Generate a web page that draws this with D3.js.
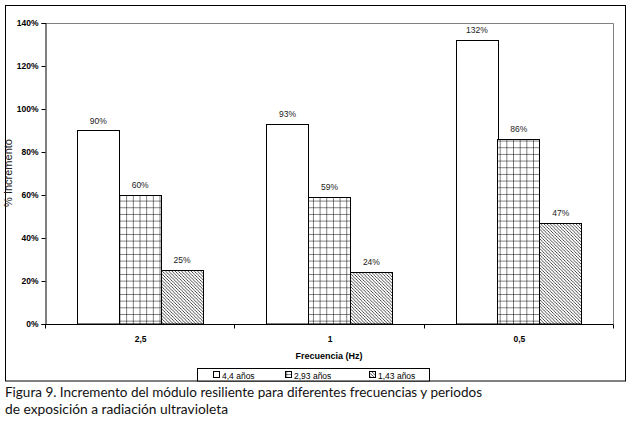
<!DOCTYPE html>
<html><head><meta charset="utf-8">
<script src="https://cdn.jsdelivr.net/npm/d3@7"></script>
<style>body{margin:0;background:#fff}svg{display:block}</style>
</head><body>
<svg id="c" width="629" height="421"></svg>
<script>
const categories = ["2,5", "1", "0,5"];
const seriesNames = ["4,4 años", "2,93 años", "1,43 años"];
const s44 = [90, 93, 132];
const s293 = [60, 59, 86];
const s143 = [25, 24, 47];
const yTicks = [0, 20, 40, 60, 80, 100, 120, 140];

const series = [s44, s293, s143];
const svg = d3.select("#c");
const m = {l: 45, r: 613, t: 23, b: 324};
const F = "'Liberation Sans', Arial, sans-serif";

const defs = svg.append("defs");
const pg = defs.append("pattern").attr("id","grid").attr("patternUnits","userSpaceOnUse")
  .attr("width",6.67).attr("height",6.67).attr("x",119.5).attr("y",0.5);
pg.append("rect").attr("width",6.67).attr("height",6.67).attr("fill","#fff");
pg.append("path").attr("d","M0,0H6.67M0,0V6.67").attr("stroke","#000").attr("stroke-width",1).attr("fill","none");
const ph = defs.append("pattern").attr("id","hatch").attr("patternUnits","userSpaceOnUse")
  .attr("width",3.2).attr("height",3.2);
ph.append("rect").attr("width",3.2).attr("height",3.2).attr("fill","#fff");
ph.append("path").attr("d","M-1,-1L4.2,4.2M-1,2.2L1,4.2M2.2,-1L4.2,1").attr("stroke","#000").attr("stroke-width",0.7);
const fills = ["#fff", "url(#grid)", "url(#hatch)"];

// outer frame
svg.append("rect").attr("x",5.5).attr("y",5.5).attr("width",620).attr("height",375.5)
  .attr("fill","none").attr("stroke","#000").attr("stroke-width",1);

const x0 = d3.scaleBand().domain(categories).range([m.l, m.r]).paddingInner(0).paddingOuter(0);
const x1 = d3.scaleBand().domain(d3.range(3)).range([0, x0.bandwidth()]).paddingInner(0).paddingOuter(0.76);
const y = d3.scaleLinear().domain([0, 140]).range([m.b, m.t]);

// plot area border (gray top/right)
svg.append("path").attr("d",`M${m.l},${m.t+0.5}H${m.r+0.5}V${m.b}`).attr("fill","none").attr("stroke","#808080").attr("stroke-width",1);

// bars
categories.forEach((c, ci) => {
  series.forEach((s, si) => {
    const bx = x0(c) + x1(si);
    svg.append("rect").attr("x", Math.round(bx)+0.5).attr("y", Math.round(y(s[ci]))+0.5)
      .attr("width", Math.round(x1.bandwidth())).attr("height", y(0) - Math.round(y(s[ci])) - 0.5)
      .attr("fill", fills[si]).attr("stroke","#000").attr("stroke-width",1);
    svg.append("text").attr("x", bx + x1.bandwidth()/2 + 0.5).attr("y", y(s[ci]) - 7)
      .attr("text-anchor","middle").attr("font-family",F).attr("font-size",8.5).attr("fill","#222")
      .text(s[ci] + "%");
  });
});

// y axis
const ya = d3.axisLeft(y).tickValues(yTicks).tickFormat(d => d + "%").tickSize(4).tickPadding(3);
const gy = svg.append("g").attr("transform",`translate(${m.l+0.5},0)`).call(ya);
gy.select(".domain").attr("stroke","#000");
gy.selectAll("text").attr("font-family",F).attr("font-size",8.5).attr("font-weight","bold").attr("fill","#000");

// x axis
const gx = svg.append("g").attr("transform",`translate(0,${m.b+0.5})`);
gx.append("line").attr("x1",m.l).attr("x2",m.r+0.5).attr("stroke","#000");
const bounds = categories.map(c => x0(c)).concat([m.r]);
gx.selectAll(".tk").data(bounds).enter().append("line")
  .attr("x1",d=>Math.round(d)+0.5).attr("x2",d=>Math.round(d)+0.5).attr("y1",0).attr("y2",4).attr("stroke","#000");
gx.selectAll(".lb").data(categories).enter().append("text")
  .attr("x",d=>x0(d)+x0.bandwidth()/2+1).attr("y",17).attr("text-anchor","middle")
  .attr("font-family",F).attr("font-size",8.5).attr("font-weight","bold").text(d=>d);

// axis titles
svg.append("text").attr("x",329).attr("y",359).attr("text-anchor","middle")
  .attr("font-family",F).attr("font-size",9).attr("font-weight","bold").text("Frecuencia (Hz)");
svg.append("text").attr("transform","translate(12,173) rotate(-90)").attr("text-anchor","middle")
  .attr("font-family",F).attr("font-size",11).attr("fill","#222").text("% Incremento");

// legend
const lg = svg.append("g");
lg.append("rect").attr("x",197.5).attr("y",368.5).attr("width",232).attr("height",12.5)
  .attr("fill","#fff").attr("stroke","#000");
const lx = [213, 285, 369];
seriesNames.forEach((n, i) => {
  lg.append("rect").attr("x",lx[i]+0.5).attr("y",371.5).attr("width",6).attr("height",6)
    .attr("fill", fills[i]).attr("stroke","#000");
  lg.append("text").attr("x",lx[i]+9).attr("y",378.5).attr("font-family",F).attr("font-size",8.5).text(n);
});

// caption
const cap = ["Figura 9. Incremento del módulo resiliente para diferentes frecuencias y periodos",
             "de exposición a radiación ultravioleta"];
svg.append("text").attr("x",5).attr("y",397).attr("font-family","Lato, 'Open Sans', sans-serif").attr("font-size",13.5).attr("fill","#111")
  .attr("textLength",477).attr("lengthAdjust","spacingAndGlyphs").text(cap[0]);
svg.append("text").attr("x",5).attr("y",414).attr("font-family","Lato, 'Open Sans', sans-serif").attr("font-size",13.5).attr("fill","#111")
  .attr("textLength",223).attr("lengthAdjust","spacingAndGlyphs").text(cap[1]);
</script>
</body></html>
